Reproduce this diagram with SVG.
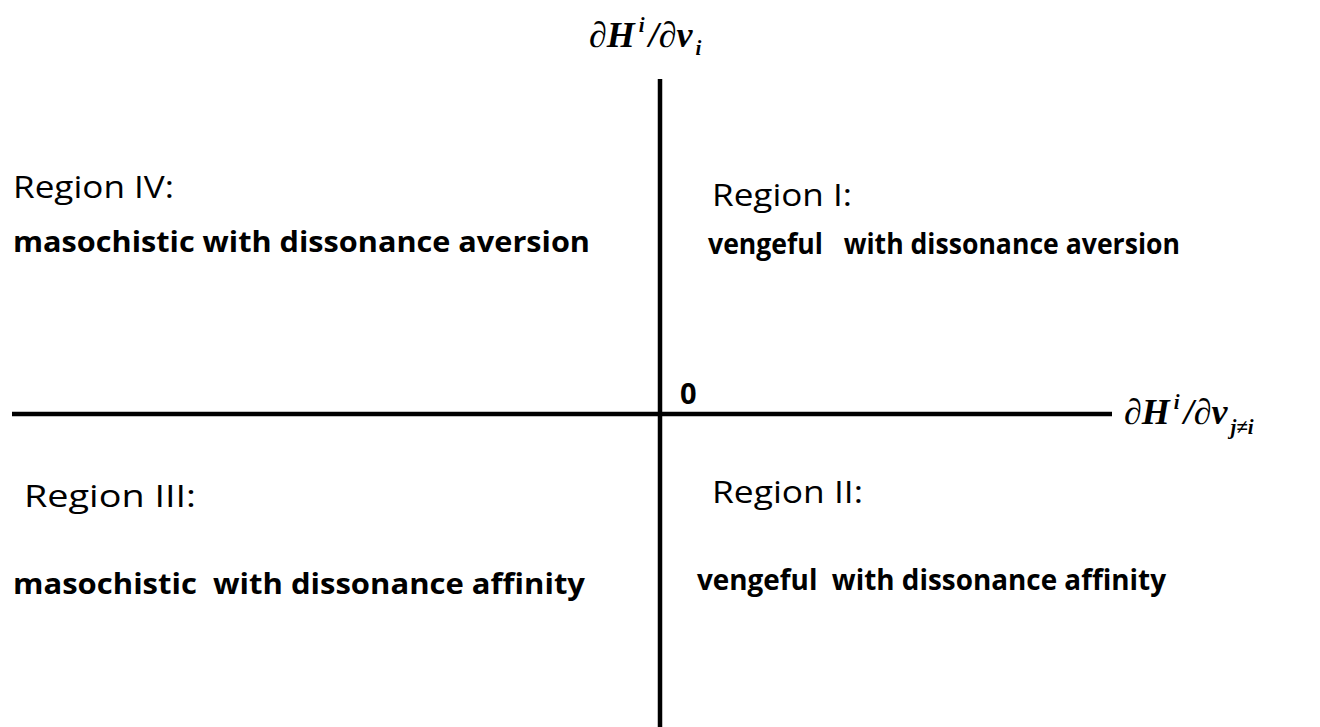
<svg xmlns="http://www.w3.org/2000/svg" width="1320" height="727" viewBox="0 0 1320 727">
<style>
.axis{stroke:#000;stroke-width:4.5;fill:none}
.reg{font-family:"Open Sans","Liberation Sans",sans-serif;font-size:31px;fill:#000}
.desc{font-family:"Open Sans","Liberation Sans",sans-serif;font-size:29px;font-weight:bold;fill:#000}
.math{font-family:"Liberation Serif","DejaVu Serif",serif;font-weight:bold;font-style:italic;font-size:36px;fill:#000}
.sub{font-size:21px}
</style>
<rect width="1320" height="727" fill="#fff"/>
<g id="connectors">
<line class="axis" x1="660" y1="79" x2="660" y2="727"/>
<line class="axis" x1="12" y1="414" x2="1112" y2="414"/>
</g>
<g id="label-y"><text class="math" x="589" y="47" xml:space="preserve">∂H<tspan class="sub" dx="4" dy="-15">i</tspan><tspan dx="4" dy="15">/∂v</tspan><tspan class="sub" dx="3" dy="8">i</tspan></text></g>
<g id="label-x"><text class="math" x="1124" y="424" xml:space="preserve">∂H<tspan class="sub" dx="4" dy="-15">i</tspan><tspan dx="4" dy="15">/∂v</tspan><tspan class="sub" dx="3" dy="10">j≠i</tspan></text></g>
<g id="origin"><text class="desc" x="680" y="404" font-size="21">0</text></g>
<g id="region4">
<text class="reg" x="13" y="198" textLength="161" lengthAdjust="spacingAndGlyphs">Region IV:</text>
<text class="desc" x="13" y="252" textLength="577" lengthAdjust="spacingAndGlyphs">masochistic with dissonance aversion</text>
</g>
<g id="region1">
<text class="reg" x="712" y="206" textLength="140" lengthAdjust="spacingAndGlyphs">Region I:</text>
<text class="desc" x="708" y="254" xml:space="preserve" textLength="472" lengthAdjust="spacingAndGlyphs">vengeful   with dissonance aversion</text>
</g>
<g id="region3">
<text class="reg" x="24" y="507" textLength="172" lengthAdjust="spacingAndGlyphs">Region  III:</text>
<text class="desc" x="13" y="594" xml:space="preserve" textLength="572" lengthAdjust="spacingAndGlyphs">masochistic  with dissonance affinity</text>
</g>
<g id="region2">
<text class="reg" x="712" y="503" textLength="151" lengthAdjust="spacingAndGlyphs">Region II:</text>
<text class="desc" x="697" y="590" xml:space="preserve" textLength="469" lengthAdjust="spacingAndGlyphs">vengeful  with dissonance affinity</text>
</g>
</svg>
